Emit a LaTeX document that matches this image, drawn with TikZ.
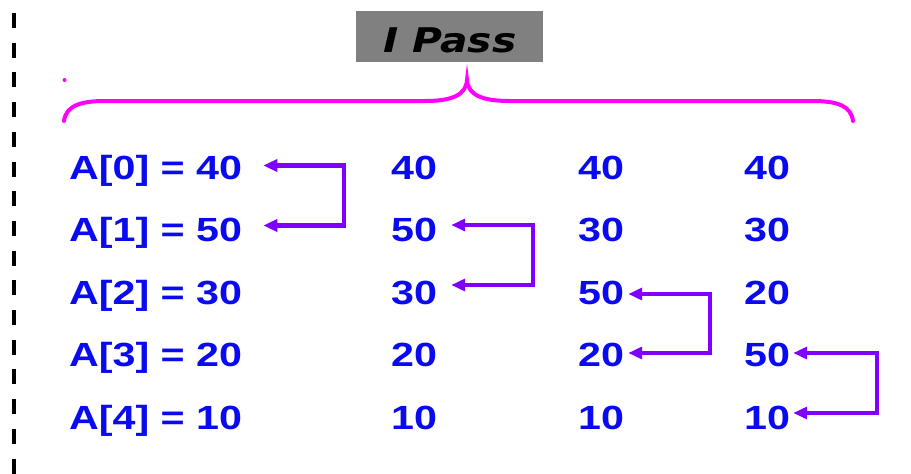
\documentclass[tikz,border=0pt]{standalone}
\usepackage{fontspec}
\usetikzlibrary{arrows.meta}
\newfontfamily\valfont[FakeStretch=1.23]{Liberation Sans}
\newfontfamily\titlefont[FakeStretch=1.2]{DejaVu Sans}
\definecolor{valblue}{RGB}{10,10,240}
\definecolor{arrpurple}{RGB}{127,0,255}
\definecolor{bracemag}{RGB}{255,0,255}
\definecolor{titlegray}{RGB}{128,128,128}
\tikzset{
  val/.style={anchor=base west, inner sep=0pt, text=valblue,
    font=\valfont\bfseries\fontsize{33.5}{36}\selectfont},
  arr/.style={draw=arrpurple, line width=4.2pt, line join=miter,
    {Triangle[length=14pt,width=12pt]}-{Triangle[length=14pt,width=12pt]}},
  titlebox/.style={fill=titlegray, minimum width=187pt, minimum height=51pt,
    inner sep=0pt},
  titletext/.style={inner sep=0pt, anchor=base,
    font=\titlefont\bfseries\itshape\fontsize{34}{36}\selectfont}
}
\begin{document}
\begin{tikzpicture}[x=1pt,y=-1pt]
\useasboundingbox (0,0) rectangle (911,474);
% dashed vertical line
\draw[line width=3.5pt, dash pattern=on 15pt off 14.7pt] (14,13) -- (14,474);
% title
\node[titlebox] (title) at (449.5,36.5) {};
\node[titletext] (titlelbl) at (450,52) {I Pass};
% brace
\draw[bracemag, line width=4pt, line cap=round]
  (64,121) .. controls (66,106) and (80,101) .. (105,101) -- (425,101)
  .. controls (452,101) and (466,95) .. (467,80)
  .. controls (468,95) and (482,101) .. (510,101) -- (812,101)
  .. controls (838,101) and (851,106) .. (853,121);
\fill[bracemag] (64.5,80) circle (2pt);
% column 1
\node[val] (a0) at (69,179) {A[0] = 40};
\node[val] (a1) at (69,241.5) {A[1] = 50};
\node[val] (a2) at (69,304) {A[2] = 30};
\node[val] (a3) at (69,366.5) {A[3] = 20};
\node[val] (a4) at (69,429) {A[4] = 10};
% column 2
\node[val] (b0) at (391,179) {40};
\node[val] (b1) at (391,241.5) {50};
\node[val] (b2) at (391,304) {30};
\node[val] (b3) at (391,366.5) {20};
\node[val] (b4) at (391,429) {10};
% column 3
\node[val] (c0) at (578,179) {40};
\node[val] (c1) at (578,241.5) {30};
\node[val] (c2) at (578,304) {50};
\node[val] (c3) at (578,366.5) {20};
\node[val] (c4) at (578,429) {10};
% column 4
\node[val] (d0) at (744,179) {40};
\node[val] (d1) at (744,241.5) {30};
\node[val] (d2) at (744,304) {20};
\node[val] (d3) at (744,366.5) {50};
\node[val] (d4) at (744,429) {10};
% swap arrows
\draw[arr] ([xshift=21pt,yshift=13.5pt]a0.base east) -- ++(81,0) |- ([xshift=21pt,yshift=16pt]a1.base east);
\draw[arr] ([xshift=14pt,yshift=16.5pt]b1.base east) -- ++(82,0) |- ([xshift=14pt,yshift=19pt]b2.base east);
\draw[arr] ([xshift=4pt,yshift=10pt]c2.base east) -- ++(82,0) |- ([xshift=4pt,yshift=13.5pt]c3.base east);
\draw[arr] ([xshift=3pt,yshift=13.5pt]d3.base east) -- ++(84,0) |- ([xshift=3pt,yshift=16pt]d4.base east);
\end{tikzpicture}
\end{document}
